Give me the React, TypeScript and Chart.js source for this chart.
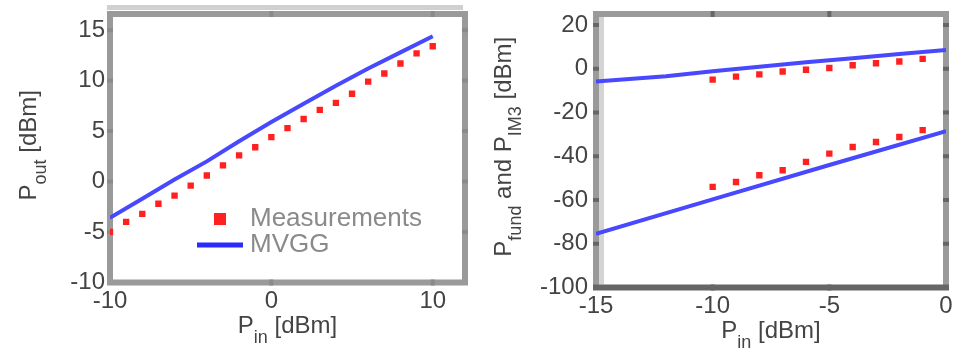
import React, { useEffect, useRef } from 'react';
import { Chart, registerables } from 'chart.js';

Chart.register(...registerables);

// ---------- Left panel data ----------
const leftPin = [-10, -9, -8, -7, -6, -5, -4, -3, -2, -1, 0, 1, 2, 3, 4, 5, 6, 7, 8, 9, 10];
const leftMeasured = [-5.0, -4.0, -3.2, -2.2, -1.4, -0.4, 0.6, 1.6, 2.6, 3.4, 4.4, 5.3, 6.2, 7.1, 7.8, 8.7, 9.9, 10.7, 11.7, 12.7, 13.4];
const leftModelPin = [-10, -8, -6, -4, -2, 0, 2, 4, 6, 8, 10];
const leftModel = [-3.6, -1.7, 0.2, 2.0, 4.0, 5.9, 7.7, 9.5, 11.2, 12.8, 14.4];
const leftXTicks = [-10, 0, 10];
const leftYTicks = [-10, -5, 0, 5, 10, 15];

// ---------- Right panel data ----------
const rightMeasPin = [-10, -9, -8, -7, -6, -5, -4, -3, -2, -1];
const rightFundMeas = [-5.0, -3.6, -2.6, -1.3, -0.5, 0.3, 1.6, 2.5, 3.3, 4.5];
const rightIm3Meas = [-54.0, -51.8, -48.7, -46.4, -42.6, -38.8, -35.8, -33.5, -31.2, -28.1];
const rightFundModelPin = [-15, -12, -10, -8, -6, -4, -2, 0];
const rightFundModel = [-5.8, -3.4, -1.2, 0.9, 2.9, 4.8, 6.7, 8.5];
const rightIm3ModelPin = [-15, -10, -5, 0];
const rightIm3Model = [-75.5, -59.7, -44.0, -28.5];
const rightXTicks = [-15, -10, -5, 0];
const rightYTicks = [-100, -80, -60, -40, -20, 0, 20];

const FONT = "'Liberation Sans', Arial, Helvetica, sans-serif";
const RED = '#ff2020';
const BLUE = '#4848ff';
const TEXT = '#444444';

type Seg = { t: string; sub?: boolean };

function drawRich(ctx: CanvasRenderingContext2D, segs: Seg[], x: number, y: number, rotate: boolean) {
  const mainSize = 24;
  const subSize = 18;
  const drop = 10;
  ctx.save();
  let total = 0;
  const widths = segs.map((s) => {
    ctx.font = `${s.sub ? subSize : mainSize}px ${FONT}`;
    const w = ctx.measureText(s.t).width;
    total += w;
    return w;
  });
  ctx.translate(x, y);
  if (rotate) ctx.rotate(-Math.PI / 2);
  ctx.fillStyle = TEXT;
  ctx.textBaseline = 'alphabetic';
  ctx.textAlign = 'left';
  let cx = -total / 2;
  segs.forEach((s, i) => {
    ctx.font = `${s.sub ? subSize : mainSize}px ${FONT}`;
    ctx.fillText(s.t, cx, s.sub ? drop : 0);
    cx += widths[i];
  });
  ctx.restore();
}

type PanelOpts = {
  xTicks: number[];
  yTicks: number[];
  xTitle: Seg[];
  yTitle: Seg[];
  yTitleX: number;
  yTitleDy: number;
  bottomColor: string;
  tickColor: string;
  topBand?: boolean;
  leftBand?: boolean;
  legend?: boolean;
};

function makePlugin(o: PanelOpts) {
  return {
    id: 'panelDeco',
    beforeDatasetsDraw(chart: any) {
      const ctx: CanvasRenderingContext2D = chart.ctx;
      const { left, right, top, bottom } = chart.chartArea;
      const xs = chart.scales.x;
      const ys = chart.scales.y;
      ctx.save();
      if (o.topBand) {
        ctx.fillStyle = '#d0d0d0';
        ctx.fillRect(left - 3, top - 9, right - left + 1, 5);
      }
      if (o.leftBand) {
        ctx.fillStyle = '#d4d4d4';
        ctx.fillRect(left + 3, top + 3, 5, bottom - top - 6);
      }
      ctx.lineWidth = 6;
      ctx.strokeStyle = '#9a9a9a';
      ctx.beginPath();
      ctx.moveTo(left, bottom);
      ctx.lineTo(left, top);
      ctx.lineTo(right, top);
      ctx.lineTo(right, bottom);
      ctx.stroke();
      ctx.strokeStyle = o.bottomColor;
      ctx.beginPath();
      ctx.moveTo(left - 3, bottom);
      ctx.lineTo(right + 3, bottom);
      ctx.stroke();
      // inward ticks
      ctx.strokeStyle = o.tickColor;
      ctx.lineWidth = 4;
      const L = 6;
      o.xTicks.forEach((v) => {
        const px = xs.getPixelForValue(v);
        if (px <= left + 4 || px >= right - 4) return;
        ctx.beginPath();
        ctx.moveTo(px, top - 3);
        ctx.lineTo(px, top + L - 3);
        ctx.moveTo(px, bottom + 3);
        ctx.lineTo(px, bottom - L + 3);
        ctx.stroke();
      });
      o.yTicks.forEach((v) => {
        const py = ys.getPixelForValue(v);
        if (py <= top + 4 || py >= bottom - 4) return;
        ctx.beginPath();
        ctx.moveTo(left - 3, py);
        ctx.lineTo(left + L - 3, py);
        ctx.moveTo(right + 3, py);
        ctx.lineTo(right - L + 3, py);
        ctx.stroke();
      });
      ctx.restore();
    },
    afterDraw(chart: any) {
      const ctx: CanvasRenderingContext2D = chart.ctx;
      const { left, right, top, bottom } = chart.chartArea;
      drawRich(ctx, o.xTitle, (left + right) / 2, bottom + 50.5, false);
      drawRich(ctx, o.yTitle, o.yTitleX, (top + bottom) / 2 + o.yTitleDy, true);
      if (o.legend) {
        const ds = chart.data.datasets;
        ctx.save();
        ctx.fillStyle = ds[0].backgroundColor;
        ctx.fillRect(right - 245 - 6, bottom - 63.5 - 6, 12, 12);
        ctx.strokeStyle = '#2a2aff';
        ctx.lineWidth = 5;
        ctx.beginPath();
        ctx.moveTo(right - 268, bottom - 37.5);
        ctx.lineTo(right - 222, bottom - 37.5);
        ctx.stroke();
        ctx.font = `26px ${FONT}`;
        ctx.fillStyle = '#8a8a8a';
        ctx.textBaseline = 'middle';
        ctx.textAlign = 'left';
        ctx.fillText(ds[0].label, right - 215, bottom - 63.5);
        ctx.fillText(ds[1].label, right - 215, bottom - 37.5);
        ctx.restore();
      }
    },
  };
}

function pts(xs: number[], ys: number[]) {
  return xs.map((x, i) => ({ x, y: ys[i] }));
}

function axis(min: number, max: number, ticks: number[], fitKey: 'width' | 'height', fitVal: number, pad: number) {
  return {
    type: 'linear' as const,
    min,
    max,
    grid: { display: false, drawTicks: false },
    border: { display: false },
    afterBuildTicks: (scale: any) => {
      scale.ticks = ticks.map((v) => ({ value: v }));
    },
    afterFit: (scale: any) => {
      scale[fitKey] = fitVal;
      scale.paddingTop = 0;
      scale.paddingBottom = 0;
      scale.paddingLeft = 0;
      scale.paddingRight = 0;
    },
    ticks: {
      padding: pad,
      color: TEXT,
      font: { family: FONT, size: 24 },
      callback: (v: any) => String(v),
      maxRotation: 0,
      autoSkip: false,
    },
  };
}

function measuredDs(label: string, data: any[]) {
  return {
    label,
    data,
    showLine: false,
    pointStyle: 'rect',
    pointRadius: 4.5,
    pointBackgroundColor: RED,
    pointBorderWidth: 0,
    backgroundColor: RED,
    borderColor: RED,
  };
}

function modelDs(label: string, data: any[]) {
  return {
    label,
    data,
    showLine: true,
    pointRadius: 0,
    borderColor: BLUE,
    borderWidth: 4,
    backgroundColor: BLUE,
    fill: false,
    tension: 0,
  };
}

function Panel({ side }: { side: 'left' | 'right' }) {
  const ref = useRef<HTMLCanvasElement | null>(null);
  useEffect(() => {
    if (!ref.current) return;
    let config: any;
    if (side === 'left') {
      config = {
        type: 'scatter',
        data: {
          datasets: [
            measuredDs('Measurements', pts(leftPin, leftMeasured)),
            modelDs('MVGG', pts(leftModelPin, leftModel)),
          ],
        },
        options: {
          animation: false,
          responsive: false,
          layout: { padding: { left: 0, top: 14, right: 13, bottom: 0 } },
          plugins: { legend: { display: false }, tooltip: { enabled: false } },
          scales: {
            x: axis(-10, 12, leftXTicks, 'height', 65.5, 4),
            y: axis(-10, 16.6, leftYTicks, 'width', 110, 5),
          },
        },
        plugins: [
          makePlugin({
            xTicks: leftXTicks,
            yTicks: leftYTicks,
            xTitle: [{ t: 'P' }, { t: 'in', sub: true }, { t: ' [dBm]' }],
            yTitle: [{ t: 'P' }, { t: 'out', sub: true }, { t: ' [dBm]' }],
            yTitleX: 36,
            yTitleDy: -3,
            bottomColor: '#9a9a9a',
            tickColor: '#8a8a8a',
            topBand: true,
            legend: true,
          }),
        ],
      };
    } else {
      config = {
        type: 'scatter',
        data: {
          datasets: [
            measuredDs('Measured fundamental', pts(rightMeasPin, rightFundMeas)),
            measuredDs('Measured IM3', pts(rightMeasPin, rightIm3Meas)),
            modelDs('MVGG fundamental', pts(rightFundModelPin, rightFundModel)),
            modelDs('MVGG IM3', pts(rightIm3ModelPin, rightIm3Model)),
          ],
        },
        options: {
          animation: false,
          responsive: false,
          layout: { padding: { left: 0, top: 14, right: 10, bottom: 0 } },
          plugins: { legend: { display: false }, tooltip: { enabled: false } },
          scales: {
            x: axis(-15, 0, rightXTicks, 'height', 60.5, 4),
            y: axis(-100, 25, rightYTicks, 'width', 118, 8),
          },
        },
        plugins: [
          makePlugin({
            xTicks: rightXTicks,
            yTicks: rightYTicks,
            xTitle: [{ t: 'P' }, { t: 'in', sub: true }, { t: ' [dBm]' }],
            yTitle: [
              { t: 'P' },
              { t: 'fund', sub: true },
              { t: ' and P' },
              { t: 'IM3', sub: true },
              { t: ' [dBm]' },
            ],
            yTitleX: 33,
            yTitleDy: -4,
            bottomColor: '#666666',
            tickColor: '#666666',
            leftBand: true,
          }),
        ],
      };
    }
    const chart = new Chart(ref.current, config);
    return () => chart.destroy();
  }, [side]);
  return <canvas ref={ref} width={478} height={348} style={{ display: 'block', width: 478, height: 348 }} />;
}

export default function App() {
  return (
    <div style={{ position: 'fixed', left: 0, top: 0, width: 956, height: 348, background: '#ffffff', overflow: 'hidden' }}>
      <div style={{ position: 'absolute', left: 0, top: 0 }}>
        <Panel side="left" />
      </div>
      <div style={{ position: 'absolute', left: 478, top: 0 }}>
        <Panel side="right" />
      </div>
    </div>
  );
}
